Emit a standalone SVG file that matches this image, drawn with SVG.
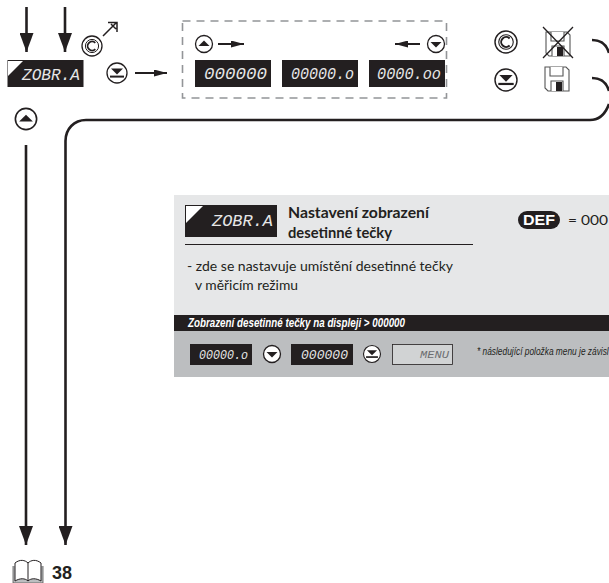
<svg xmlns="http://www.w3.org/2000/svg" width="609" height="583" viewBox="0 0 609 583">
<style>
.ln{fill:none;stroke:#231f20;stroke-width:2}
.thick{fill:none;stroke:#231f20;stroke-width:2.6}
.k{fill:#231f20}
.ring{fill:#fff;stroke:#231f20;stroke-width:1.3}
.disp{fill:#231f20}
.led{font-family:"Liberation Mono",monospace;font-style:italic;fill:#e6e6e6}
.sans{font-family:Lato,"Noto Sans",sans-serif;fill:#231f20}
.bold{font-weight:700}
.cond{font-family:"Liberation Sans",sans-serif;font-style:italic}
.disk{fill:#fff;stroke:#555;stroke-width:1.1}
</style>
<defs>
<marker id="big" markerUnits="userSpaceOnUse" markerWidth="19" markerHeight="14" refX="19" refY="7" orient="auto" viewBox="0 0 19 14"><path d="M0 0L19 7L0 14Z" fill="#231f20"/></marker>
<marker id="small" markerUnits="userSpaceOnUse" markerWidth="13" markerHeight="7" refX="13" refY="3.500" orient="auto"><path d="M0 0L13 3.500L0 7Z" fill="#231f20"/></marker>
<g id="bUp"><circle r="8.500" class="ring"/><path d="M-5.500 2L0 -3.500L5.500 2Z" class="k"/></g>
<g id="bDown"><circle r="8.500" class="ring"/><path d="M-5.500 -2L0 3.500L5.500 -2Z" class="k"/></g>
<g id="bEnter"><circle r="10" class="ring"/><path d="M-6 -4.500H6L0 1.500Z" class="k"/><path d="M-7 3.600H7" stroke="#231f20" stroke-width="2" fill="none"/></g>
<g id="bC"><circle r="10" class="ring"/><circle r="6.600" fill="none" stroke="#231f20" stroke-width="1"/><path d="M3.300 -3.200A4.500 4.500 0 1 0 3.300 3.200" fill="none" stroke="#231f20" stroke-width="1.800"/></g>
<g id="floppy"><path d="M0 0H21L24 3V24H3L0 21Z" class="disk"/><path d="M5 0V9H18V0" class="disk"/><path d="M6 24V14H18V24" class="disk"/><rect x="11" y="15" width="6" height="9" fill="#231f20"/></g>
</defs>

<g id="connectors">
<path d="M26.500 7V52" class="thick" marker-end="url(#big)"/>
<path d="M65 7V52" class="thick" marker-end="url(#big)"/>
<path d="M26 145V545" class="thick" marker-end="url(#big)"/>
<path d="M592 40C602 40 607 46 609 53" class="thick"/>
<path d="M592 78C602 78 607 84 609 91" class="thick"/>
<path d="M609 104C605 115 598 120 590 120H86C74 120 65.500 129 65.500 141V545" class="thick" marker-end="url(#big)"/>
<path d="M135 73H167" class="ln" marker-end="url(#small)"/>
<path d="M218 44H244" class="ln" stroke-width="1.600" marker-end="url(#small)"/>
<path d="M420 44H395" class="ln" stroke-width="1.600" marker-end="url(#small)"/>
<path d="M103 36L116 23M108 22.500H117V32M111 24L116 29" fill="none" stroke="#231f20" stroke-width="1.500"/>
</g>

<g id="selection-box"><rect x="182.500" y="21" width="264" height="77" fill="none" stroke="#939598" stroke-width="1.600" stroke-dasharray="8 6"/></g>

<g id="node-zobr-top">
<rect x="7.500" y="60" width="76" height="27" class="disp"/>
<path d="M8 61H23L8 76Z" fill="#fff"/>
<text x="22" y="79.500" class="led" font-size="16" textLength="58" lengthAdjust="spacingAndGlyphs">ZOBR.A</text>
</g>
<g id="node-c-top"><use href="#bC" x="92" y="46"/></g>
<g id="node-enter-top"><use href="#bEnter" x="117" y="73"/></g>
<g id="node-up-left"><use href="#bUp" x="26" y="119" transform="translate(26 119) scale(1.250) translate(-26 -119)"/></g>

<g id="node-up-box"><use href="#bUp" x="204" y="44"/></g>
<g id="node-down-box"><use href="#bDown" x="436" y="44"/></g>
<g id="node-d0"><rect x="195" y="60" width="76" height="27" class="disp"/><text x="204" y="79" class="led" font-size="16" textLength="63" lengthAdjust="spacingAndGlyphs">000000</text></g>
<g id="node-d1"><rect x="282" y="60" width="76" height="27" class="disp"/><text x="291" y="79" class="led" font-size="16" textLength="63" lengthAdjust="spacingAndGlyphs">00000.o</text></g>
<g id="node-d2"><rect x="369" y="60" width="76" height="27" class="disp"/><text x="377" y="79" class="led" font-size="16" textLength="64" lengthAdjust="spacingAndGlyphs">0000.oo</text></g>

<g id="node-c-right"><use href="#bC" x="506" y="42" transform="translate(506 42) scale(1.100) translate(-506 -42)"/></g>
<g id="node-enter-right"><use href="#bEnter" x="506" y="80" transform="translate(506 80) scale(1.100) translate(-506 -80)"/></g>
<g id="node-nosave"><use href="#floppy" x="546" y="32"/><path d="M543 27L573 58M573 27L543 58" stroke="#231f20" stroke-width="1.300"/></g>
<g id="node-save"><use href="#floppy" x="545" y="67"/></g>

<g id="panel">
<rect x="174" y="195" width="435" height="121" fill="#e6e7e8"/>
<rect x="174" y="331" width="435" height="46" fill="#bcbec0"/>
<rect x="174" y="315" width="435" height="16" fill="#231f20"/>
<rect x="185" y="205" width="92" height="32" class="disp"/>
<path d="M186 206H203L186 223Z" fill="#fff"/>
<text x="212" y="226" class="led" font-size="16" textLength="61" lengthAdjust="spacingAndGlyphs">ZOBR.A</text>
<text x="288" y="218" class="sans bold" font-size="14.500" textLength="141" lengthAdjust="spacingAndGlyphs">Nastavení zobrazení</text>
<text x="288" y="237.500" class="sans bold" font-size="14.500" textLength="104" lengthAdjust="spacingAndGlyphs">desetinné tečky</text>
<path d="M185 244.500H473" stroke="#231f20" stroke-width="1"/>
<text x="187" y="271" class="sans" font-size="13.500" textLength="266" lengthAdjust="spacingAndGlyphs">-  zde se nastavuje umístění desetinné tečky</text>
<text x="195" y="290" class="sans" font-size="13.500" textLength="103" lengthAdjust="spacingAndGlyphs">v měřicím režimu</text>
<rect x="518" y="211" width="42" height="18" rx="9" fill="#231f20"/>
<text x="539" y="225" font-family="'Liberation Sans',sans-serif" font-weight="700" font-size="14" fill="#fff" text-anchor="middle" textLength="32" lengthAdjust="spacingAndGlyphs">DEF</text>
<text x="568" y="225" class="sans" font-size="13.500" textLength="40" lengthAdjust="spacingAndGlyphs">= 000</text>
<text x="188" y="327" class="cond bold" font-size="12" fill="#fff" textLength="217" lengthAdjust="spacingAndGlyphs">Zobrazení desetinné tečky na displeji  &gt;  000000</text>
<rect x="190" y="344" width="62" height="21" class="disp"/>
<text x="199" y="358.500" class="led" font-size="12.500" textLength="49" lengthAdjust="spacingAndGlyphs">00000.o</text>
<use href="#bDown" x="272" y="354"/>
<rect x="291" y="344" width="62" height="21" class="disp"/>
<text x="301" y="358.500" class="led" font-size="12.500" textLength="47" lengthAdjust="spacingAndGlyphs">000000</text>
<use href="#bEnter" x="372" y="354" transform="translate(372 354) scale(.85) translate(-372 -354)"/>
<rect x="392.500" y="344.500" width="60" height="20" fill="#d1d3d4" stroke="#231f20" stroke-width=".8"/>
<text x="420" y="358" class="led" font-size="11" style="fill:#6d6e71" textLength="29" lengthAdjust="spacingAndGlyphs">MENU</text>
<text transform="translate(477 355) scale(.76 1)" class="cond" font-size="11" fill="#231f20">* následující položka menu je závisl</text>
</g>

<g id="node-book">
<path d="M13 566V583H43V566" fill="#bcbec0" stroke="#555" stroke-width=".8"/>
<path d="M15 563C20 559 25 560 28 563C31 560 36 559 41 563V581C36 578 31 578 28 581C25 578 20 578 15 581Z" fill="#fff" stroke="#231f20" stroke-width="1"/>
<path d="M28 563V581" stroke="#231f20" stroke-width="1"/>
<text x="52" y="578.500" font-family="'Liberation Sans',sans-serif" font-weight="700" font-size="18" fill="#231f20">38</text>
</g>
</svg>
